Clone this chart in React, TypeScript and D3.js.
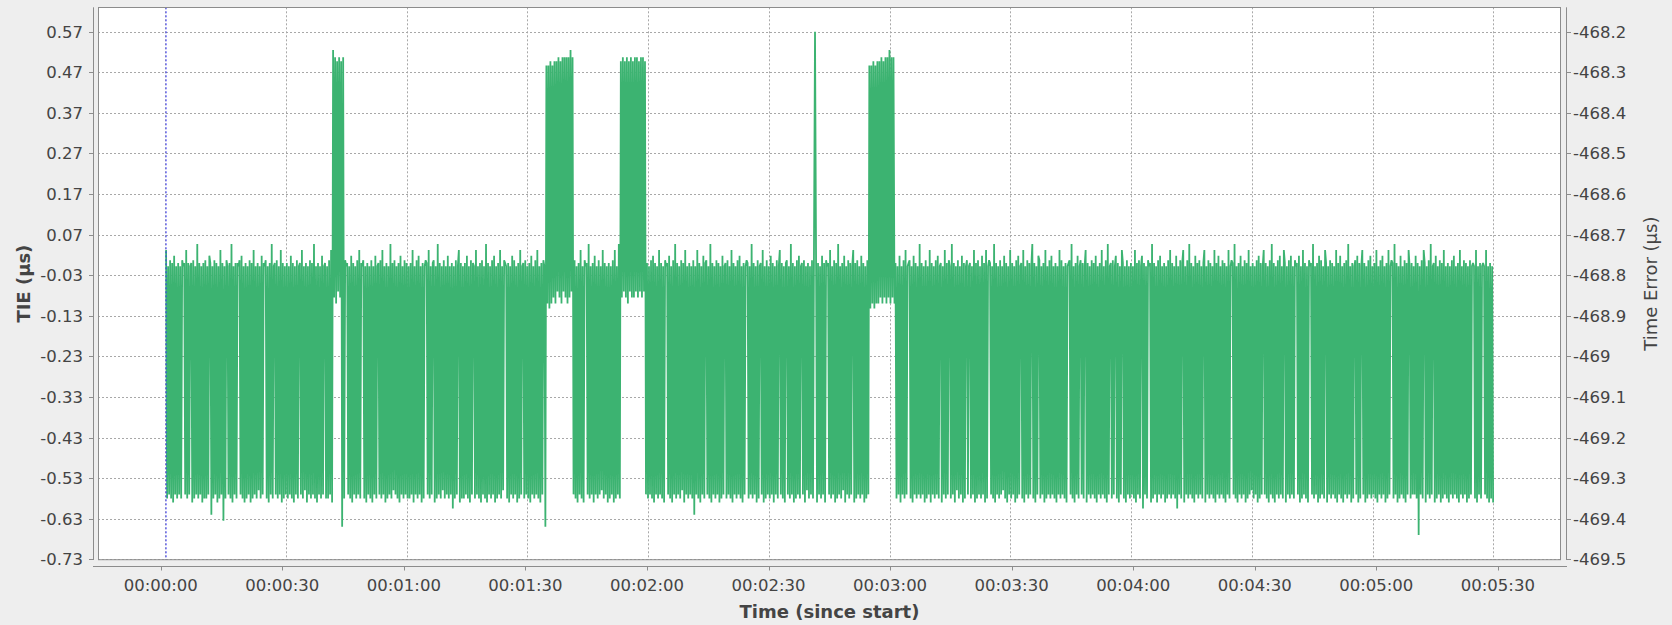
import React from "react";
import * as d3 from "d3";

const WIDTH = 1672;
const HEIGHT = 625;

// ---- axis ticks ----
const TIE_TICKS = [0.57, 0.47, 0.37, 0.27, 0.17, 0.07, -0.03, -0.13, -0.23, -0.33, -0.43, -0.53, -0.63, -0.73];
const TIE_TICK_LABELS = ["0.57", "0.47", "0.37", "0.27", "0.17", "0.07", "-0.03", "-0.13", "-0.23", "-0.33", "-0.43", "-0.53", "-0.63", "-0.73"];
const TE_OFFSET = -468.77;
const TE_TICKS = [-468.2, -468.3, -468.4, -468.5, -468.6, -468.7, -468.8, -468.9, -469, -469.1, -469.2, -469.3, -469.4, -469.5];
const TE_TICK_LABELS = ["-468.2", "-468.3", "-468.4", "-468.5", "-468.6", "-468.7", "-468.8", "-468.9", "-469", "-469.1", "-469.2", "-469.3", "-469.4", "-469.5"];
const TIME_TICKS = [0, 30, 60, 90, 120, 150, 180, 210, 240, 270, 300, 330];
const TIME_TICK_LABELS = ["00:00:00", "00:00:30", "00:01:00", "00:01:30", "00:02:00", "00:02:30", "00:03:00", "00:03:30", "00:04:00", "00:04:30", "00:05:00", "00:05:30"];

const TIME_DOMAIN = [-16.72, 346.82];
const TIE_DOMAIN = [-0.7317, 0.6301];
const START_MARKER = 0.2; // seconds

// ---- samples: one character per sample, 0.25 s apart, one row per 10 s ----
const SAMPLE_START = 0.2;
const SAMPLE_STEP = 0.25;
const ROW_SPAN = 10;
const LEVEL_CODES = ["a", "b", "c", "d", "e", "f", "n", "o", "p", "q", "r", "s", "x", "t", "w", "u", "v", "G", "H", "I", "J", "K", "L", "M", "N", "O", "Z"];
const LEVEL_VALUES = [-0.008, 0.0, 0.007, 0.018, 0.032, 0.047, -0.52, -0.545, -0.56, -0.57, -0.58, -0.59, -0.605, -0.62, -0.635, -0.65, -0.67, 0.47, 0.487, 0.497, 0.507, 0.525, -0.07, -0.085, -0.1, -0.112, 0.57];
const TIE_ROWS = [
  "eraqcrbsdqarbqarcabqerbqabscraqfrbqasbrc",
  "raqdbtarcqbsareqbwarcaqbrfsaqbrbacqdrasb",
  "raqcsbreqarbpardqbacrasbqfrabqcraqesbraq",
  "braqdrbsaqcrabqerapbsaqcrbqfrasbqardqabr",
  "arcqesKMJNILJMIuJrcabqardsbqarcqerbacras",
  "bqarcsaqdrabqcreqasbraqfrbpcqarbsdqarcqb",
  "rarbqesaqcrdqasbracbqeraqbcsarfqbrapcraq",
  "draqbxarcqaesbrarbqdrascqbareqarbscqarfs",
  "bqarcqdsarbqerapcbarbsaqdrcqasbreqabrcqa",
  "rbsdqarcqerasbqcauHNHOINHMINILJMINJLJMJN",
  "JMKLJqcrasbqerascabqfraqbsdqarcqaperbqas",
  "braqcseraqfrIMJLIMJNILJMIMJLJMILJMJLIqbr",
  "aqcrdsbqareqbrascabqdrascqfrbqarcpbseqar",
  "bqarctaqerbsaqdrbcqarfsbqarcqbsardqabrcq",
  "aresbqarcqdrasbqacbraqfrbqascrabqesarcqa",
  "rdqbsaqcraeqbrasbcqarfqbsarcqdrabqcsapbr",
  "aqcrfZesbqardqbscabqeraqcsbrfqarbpdsaqcr",
  "bqaesbrcqardqbsarcqHOHNIOHNINIMJNIMJNJMK",
  "NJMJNbraqdsaqcreqabcrasdqbraqfrbqascraqe",
  "sbqarcqdrabsaqerbqcarfqbsapcraqdsbracqab",
  "raqesbrcqardqbseracbqarfsbqarcqapdrbsaqe",
  "rbqascrdqabresaqcrbqafrbsaqdcraqbseraqcr",
  "dqarbsaqercqarbsabcqfrasbqdracqbraesbqar",
  "cqbrdsaqbreqarcsfqabrcqadrbsaqebrascqarb",
  "qaresbqcradxbqarcabsfrbqascqdraqbsarcqer",
  "bqardxaqcrbesaqcrfqbrasdqbrcqarbesaqcrbq",
  "aresbqdraqcrbsaqeracbqfrasbqdraqcsbreqap",
  "braqcsdrbqaeqbrascqfrbsaqcrdqarebsaqcrdq",
  "arcabqdsareqbrascabqfraqbsdrcqarebsaqcrb",
  "qaresbqdrasbqcrfqasbracqdsbraeqbsarcqdra",
  "qbresaqcrdqasbreqacbrfqbsardqarcsbqearbq",
  "aqdrbvaqcrebsaqcrfqabsdraqcsbreqarbsaqcr",
  "dqarbseqarcqbsarcqabaresaqbrabaqerasbras",
];

// plot geometry
const PLOT_LEFT = 98;
const PLOT_RIGHT = 1561;
const PLOT_TOP = 7.3;
const PLOT_BOTTOM = 560;
const AXIS_LEFT = 93;
const AXIS_RIGHT = 1566;
const AXIS_BOTTOM = 566.5;

const GREEN = "#3cb371";
const FONT = "'DejaVu Sans', Verdana, sans-serif";

export default function App() {
  const samples = React.useMemo(() => {
    const out: { t: number; v: number }[] = [];
    TIE_ROWS.forEach((row, r) => {
      for (let i = 0; i < row.length; i++) {
        const idx = LEVEL_CODES.indexOf(row[i]);
        if (idx < 0) continue;
        out.push({ t: SAMPLE_START + r * ROW_SPAN + i * SAMPLE_STEP, v: LEVEL_VALUES[idx] });
      }
    });
    return out;
  }, []);

  const x = d3.scaleLinear().domain(TIME_DOMAIN).range([PLOT_LEFT, PLOT_RIGHT]);
  const xAxis = d3.scaleLinear().domain(TIME_DOMAIN).range([AXIS_LEFT, AXIS_RIGHT]);
  const y = d3.scaleLinear().domain(TIE_DOMAIN).range([PLOT_BOTTOM, PLOT_TOP]);
  const yRight = d3
    .scaleLinear()
    .domain([TIE_DOMAIN[0] + TE_OFFSET, TIE_DOMAIN[1] + TE_OFFSET])
    .range([PLOT_BOTTOM, PLOT_TOP]);

  const line = d3
    .line<{ t: number; v: number }>()
    .x((d) => x(d.t))
    .y((d) => y(d.v));

  const crisp = (v: number) => Math.round(v) + 0.5;
  const midY = (PLOT_TOP + PLOT_BOTTOM) / 2;
  const midX = (PLOT_LEFT + PLOT_RIGHT) / 2;

  return (
    <div style={{ position: "fixed", left: 0, top: 0, width: WIDTH, height: HEIGHT }}>
      <svg width={WIDTH} height={HEIGHT} style={{ display: "block" }}>
        <rect x={0} y={0} width={WIDTH} height={HEIGHT} fill="#eeeeee" />
        <rect
          x={PLOT_LEFT}
          y={PLOT_TOP}
          width={PLOT_RIGHT - PLOT_LEFT}
          height={PLOT_BOTTOM - PLOT_TOP}
          fill="#ffffff"
        />
        {/* gridlines */}
        <g stroke="#a8a8a8" strokeWidth={1} strokeDasharray="2,2" fill="none">
          {TIE_TICKS.map((v, i) => (
            <line key={"hg" + i} x1={PLOT_LEFT} x2={PLOT_RIGHT} y1={crisp(y(v))} y2={crisp(y(v))} />
          ))}
          {TIME_TICKS.map((t, i) => (
            <line key={"vg" + i} x1={crisp(x(t))} x2={crisp(x(t))} y1={PLOT_TOP} y2={PLOT_BOTTOM} />
          ))}
        </g>
        {/* data */}
        <path
          d={line(samples) || ""}
          fill="none"
          stroke={GREEN}
          strokeWidth={1.8}
          strokeLinejoin="miter"
          strokeMiterlimit={1}
        />
        {/* start marker */}
        <line
          x1={x(START_MARKER)}
          x2={x(START_MARKER)}
          y1={PLOT_TOP}
          y2={PLOT_BOTTOM}
          stroke="#3a3aff"
          strokeWidth={1}
          strokeDasharray="2,2"
        />
        {/* plot outline */}
        <rect
          x={PLOT_LEFT + 0.5}
          y={PLOT_TOP + 0.2}
          width={PLOT_RIGHT - PLOT_LEFT - 1}
          height={PLOT_BOTTOM - PLOT_TOP - 0.5}
          fill="none"
          stroke="#8c8c8c"
          strokeWidth={1}
        />
        {/* axis lines */}
        <g stroke="#8c8c8c" strokeWidth={1}>
          <line x1={AXIS_LEFT + 0.5} x2={AXIS_LEFT + 0.5} y1={PLOT_TOP} y2={PLOT_BOTTOM} />
          <line x1={AXIS_RIGHT + 0.5} x2={AXIS_RIGHT + 0.5} y1={PLOT_TOP} y2={PLOT_BOTTOM} />
          <line x1={AXIS_LEFT} x2={AXIS_RIGHT + 1} y1={AXIS_BOTTOM} y2={AXIS_BOTTOM} />
          {TIE_TICKS.map((v, i) => (
            <line key={"lt" + i} x1={AXIS_LEFT - 4} x2={AXIS_LEFT} y1={crisp(y(v))} y2={crisp(y(v))} />
          ))}
          {TE_TICKS.map((v, i) => (
            <line key={"rt" + i} x1={AXIS_RIGHT + 1} x2={AXIS_RIGHT + 5} y1={crisp(yRight(v))} y2={crisp(yRight(v))} />
          ))}
          {TIME_TICKS.map((t, i) => (
            <line key={"bt" + i} x1={crisp(xAxis(t))} x2={crisp(xAxis(t))} y1={AXIS_BOTTOM} y2={AXIS_BOTTOM + 4} />
          ))}
        </g>
        {/* tick labels */}
        <g fontFamily={FONT} fontSize={16.5} fill="#444444">
          {TIE_TICKS.map((v, i) => (
            <text key={"ll" + i} x={83} y={y(v) + 6} textAnchor="end">
              {TIE_TICK_LABELS[i]}
            </text>
          ))}
          {TE_TICKS.map((v, i) => (
            <text key={"rl" + i} x={1573} y={yRight(v) + 6} textAnchor="start">
              {TE_TICK_LABELS[i]}
            </text>
          ))}
          {TIME_TICKS.map((t, i) => (
            <text key={"bl" + i} x={xAxis(t)} y={591} textAnchor="middle">
              {TIME_TICK_LABELS[i]}
            </text>
          ))}
        </g>
        {/* axis titles */}
        <g fontFamily={FONT} fontSize={18} fontWeight="bold" fill="#444444">
          <text x={midX} y={618} textAnchor="middle">
            Time (since start)
          </text>
          <text transform={`translate(29.5,${midY}) rotate(-90)`} textAnchor="middle">
            TIE (µs)
          </text>
          <text transform={`translate(1657,${midY}) rotate(-90)`} textAnchor="middle" fontWeight="normal">
            Time Error (µs)
          </text>
        </g>
      </svg>
    </div>
  );
}
